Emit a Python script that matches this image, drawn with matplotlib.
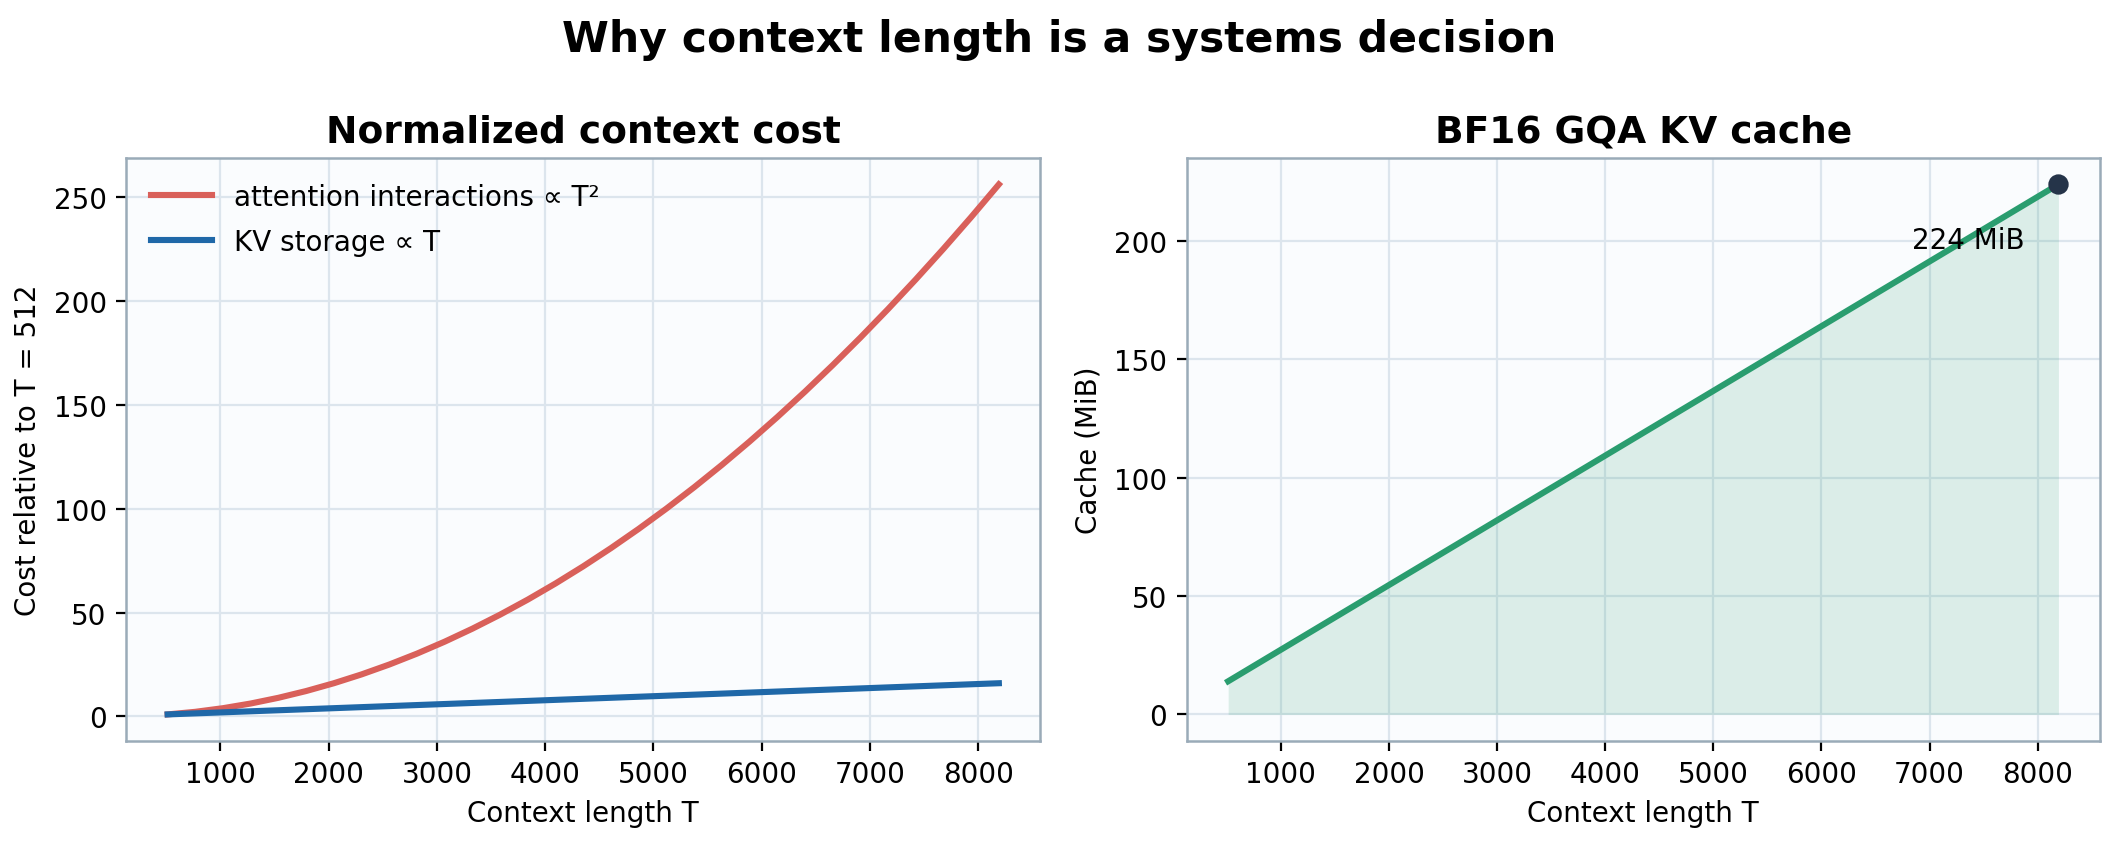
import matplotlib
matplotlib.use('Agg')
import matplotlib.pyplot as plt

# context lengths (tokens), every 256
context_T = [512, 768, 1024, 1280, 1536, 1792, 2048, 2304, 2560, 2816,
             3072, 3328, 3584, 3840, 4096, 4352, 4608, 4864, 5120, 5376,
             5632, 5888, 6144, 6400, 6656, 6912, 7168, 7424, 7680, 7936, 8192]
# cost relative to T = 512
attention_cost = [1, 2.25, 4, 6.25, 9, 12.25, 16, 20.25, 25, 30.25,
                  36, 42.25, 49, 56.25, 64, 72.25, 81, 90.25, 100, 110.25,
                  121, 132.25, 144, 156.25, 169, 182.25, 196, 210.25, 225, 240.25, 256]
kv_cost = [1, 1.5, 2, 2.5, 3, 3.5, 4, 4.5, 5, 5.5,
           6, 6.5, 7, 7.5, 8, 8.5, 9, 9.5, 10, 10.5,
           11, 11.5, 12, 12.5, 13, 13.5, 14, 14.5, 15, 15.5, 16]
# BF16 GQA KV cache, MiB
cache_mib = [14, 21, 28, 35, 42, 49, 56, 63, 70, 77,
             84, 91, 98, 105, 112, 119, 126, 133, 140, 147,
             154, 161, 168, 175, 182, 189, 196, 203, 210, 217, 224]

RED = '#d9605a'
BLUE = '#1f68a8'
GREEN = '#2a9d6f'
DOT = '#253449'
FACE = '#fafcfe'
SPINE = '#9aabb8'
GRID = '#dce5ed'

plt.rcParams['font.family'] = 'DejaVu Sans'

fig = plt.figure(figsize=(10.595, 4.225), dpi=200)
ax1 = fig.add_axes([0.0595, 0.122, 0.4315, 0.690])
ax2 = fig.add_axes([0.560, 0.122, 0.431, 0.690])

for ax in (ax1, ax2):
    ax.set_facecolor(FACE)
    ax.grid(True, color=GRID, linewidth=0.8)
    ax.set_axisbelow(True)
    for s in ax.spines.values():
        s.set_color(SPINE)
        s.set_linewidth(0.9)
    ax.tick_params(labelsize=10)
    ax.set_xlabel('Context length T', fontsize=10)

ax1.plot(context_T, attention_cost, color=RED, lw=2.2, label='attention interactions \u221d T\u00b2')
ax1.plot(context_T, kv_cost, color=BLUE, lw=2.2, label='KV storage \u221d T')
ax1.set_title('Normalized context cost', fontsize=13.5, fontweight='bold')
ax1.set_ylabel('Cost relative to T = 512', fontsize=10)
ax1.legend(loc='upper left', frameon=False, fontsize=10, handlelength=2.2, labelspacing=0.6)

ax2.fill_between(context_T, cache_mib, 0, color=GREEN, alpha=0.15, lw=0)
ax2.plot(context_T, cache_mib, color=GREEN, lw=2.2)
ax2.scatter([context_T[-1]], [cache_mib[-1]], s=40, color=DOT, zorder=5)
ax2.annotate(f'{cache_mib[-1]} MiB', (context_T[-1], cache_mib[-1]),
             xytext=(-12, -20), textcoords='offset points',
             ha='right', va='center', fontsize=10)
ax2.set_title('BF16 GQA KV cache', fontsize=13.5, fontweight='bold')
ax2.set_ylabel('Cache (MiB)', fontsize=10)

fig.suptitle('Why context length is a systems decision', fontsize=15.3, fontweight='bold', y=0.978)

fig.savefig('out.png', dpi=200)
